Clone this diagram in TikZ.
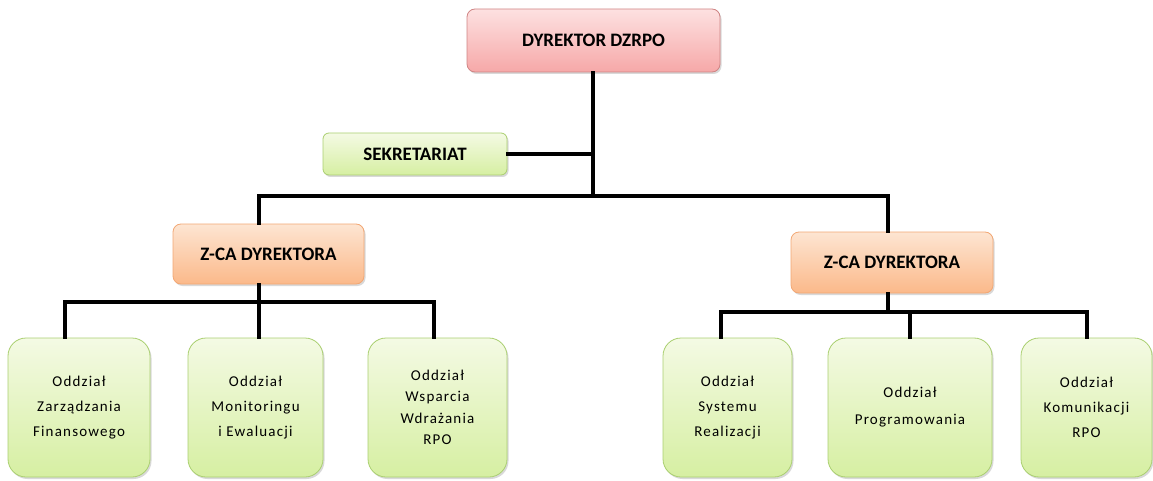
\documentclass[tikz,border=0pt]{standalone}
\usepackage{fontspec}
\setmainfont{Carlito}
\newfontfamily\unitfont{Carlito}[LetterSpace=8]
\usetikzlibrary{shadows}
\definecolor{dirtop}{HTML}{FDE1E1}
\definecolor{dirbot}{HTML}{F6A8A8}
\definecolor{dirline}{HTML}{CF8484}
\definecolor{deptop}{HTML}{FDE5D2}
\definecolor{depbot}{HTML}{FBB98A}
\definecolor{depline}{HTML}{F2A774}
\definecolor{unittop}{HTML}{F4FAE4}
\definecolor{unitbot}{HTML}{D6EFA2}
\definecolor{unitline}{HTML}{AACF70}
\tikzset{
  box/.style={draw, line width=0.8pt, align=center, inner sep=2pt,
    drop shadow={opacity=0.3, shadow xshift=1.5pt, shadow yshift=-2pt}},
  headfont/.style={font=\bfseries\fontsize{19}{22}\selectfont},
  dirbox/.style={box, headfont, draw=dirline, top color=dirtop, bottom color=dirbot,
    rounded corners=8pt},
  depbox/.style={box, headfont, draw=depline, top color=deptop, bottom color=depbot,
    rounded corners=8pt},
  secbox/.style={box, headfont, draw=unitline, top color=unittop, bottom color=unitbot,
    rounded corners=6pt},
  unitbox/.style={box, draw=unitline, top color=unittop, bottom color=unitbot,
    rounded corners=18pt, font=\unitfont\fontsize{15}{25}\selectfont},
  conn/.style={draw=black, line width=3.6pt, line cap=rect}
}
\begin{document}
\begin{tikzpicture}[x=1pt, y=-1pt]
\useasboundingbox (0,0) rectangle (1153,481);

% boxes
\node[dirbox, minimum width=253pt, minimum height=63pt] (dyr) at (593.5,40.5) {DYREKTOR DZRPO};
\node[secbox, minimum width=184pt, minimum height=42pt] (sek) at (415,154) {SEKRETARIAT};
\node[depbox, minimum width=191pt, minimum height=60pt] (zl) at (268.5,254) {Z-CA DYREKTORA};
\node[depbox, minimum width=202pt, minimum height=61pt] (zr) at (892,262.5) {Z-CA DYREKTORA};

\node[unitbox, minimum width=142pt, minimum height=139pt] (b1) at (79,407.5) {Oddział\\Zarządzania\\Finansowego};
\node[unitbox, minimum width=135pt, minimum height=139pt] (b2) at (255.5,407.5) {Oddział\\Monitoringu\\i Ewaluacji};
\node[unitbox, minimum width=139pt, minimum height=139pt,
  font=\unitfont\fontsize{15}{21.5}\selectfont] (b3) at (437.5,407.5) {Oddział\\Wsparcia\\Wdrażania\\RPO};
\node[unitbox, minimum width=129pt, minimum height=139pt] (b4) at (727.5,407.5) {Oddział\\Systemu\\Realizacji};
\node[unitbox, minimum width=164pt, minimum height=139pt,
  font=\unitfont\fontsize{15}{27}\selectfont] (b5) at (910,407.5) {Oddział\\Programowania};
\node[unitbox, minimum width=131pt, minimum height=139pt] (b6) at (1086.5,407.5) {Oddział\\Komunikacji\\RPO};

% tap points and bus levels
\coordinate (busA) at (593,196);
\coordinate (tl) at (259,0);
\coordinate (tr) at (888,0);
\coordinate (busL) at (0,302);
\coordinate (busR) at (0,312);
\coordinate (t1) at (65,0);
\coordinate (t3) at (434,0);
\coordinate (t4) at (721,0);
\coordinate (t6) at (1087,0);

% connectors
\draw[conn] (dyr.south -| busA) -- (busA);
\draw[conn] (sek.east) -- (sek.east -| busA);
\draw[conn] (zl.north -| tl) -- (tl |- busA) -- (tr |- busA) -- (zr.north -| tr);

\draw[conn] (zl.south -| tl) -- (tl |- busL);
\draw[conn] (b1.north -| t1) -- (t1 |- busL) -- (t3 |- busL) -- (b3.north -| t3);
\draw[conn] (b2.north -| tl) -- (tl |- busL);

\draw[conn] (zr.south -| tr) -- (tr |- busR);
\draw[conn] (b4.north -| t4) -- (t4 |- busR) -- (t6 |- busR) -- (b6.north -| t6);
\draw[conn] (b5.north) -- (b5.north |- busR);
\end{tikzpicture}
\end{document}
